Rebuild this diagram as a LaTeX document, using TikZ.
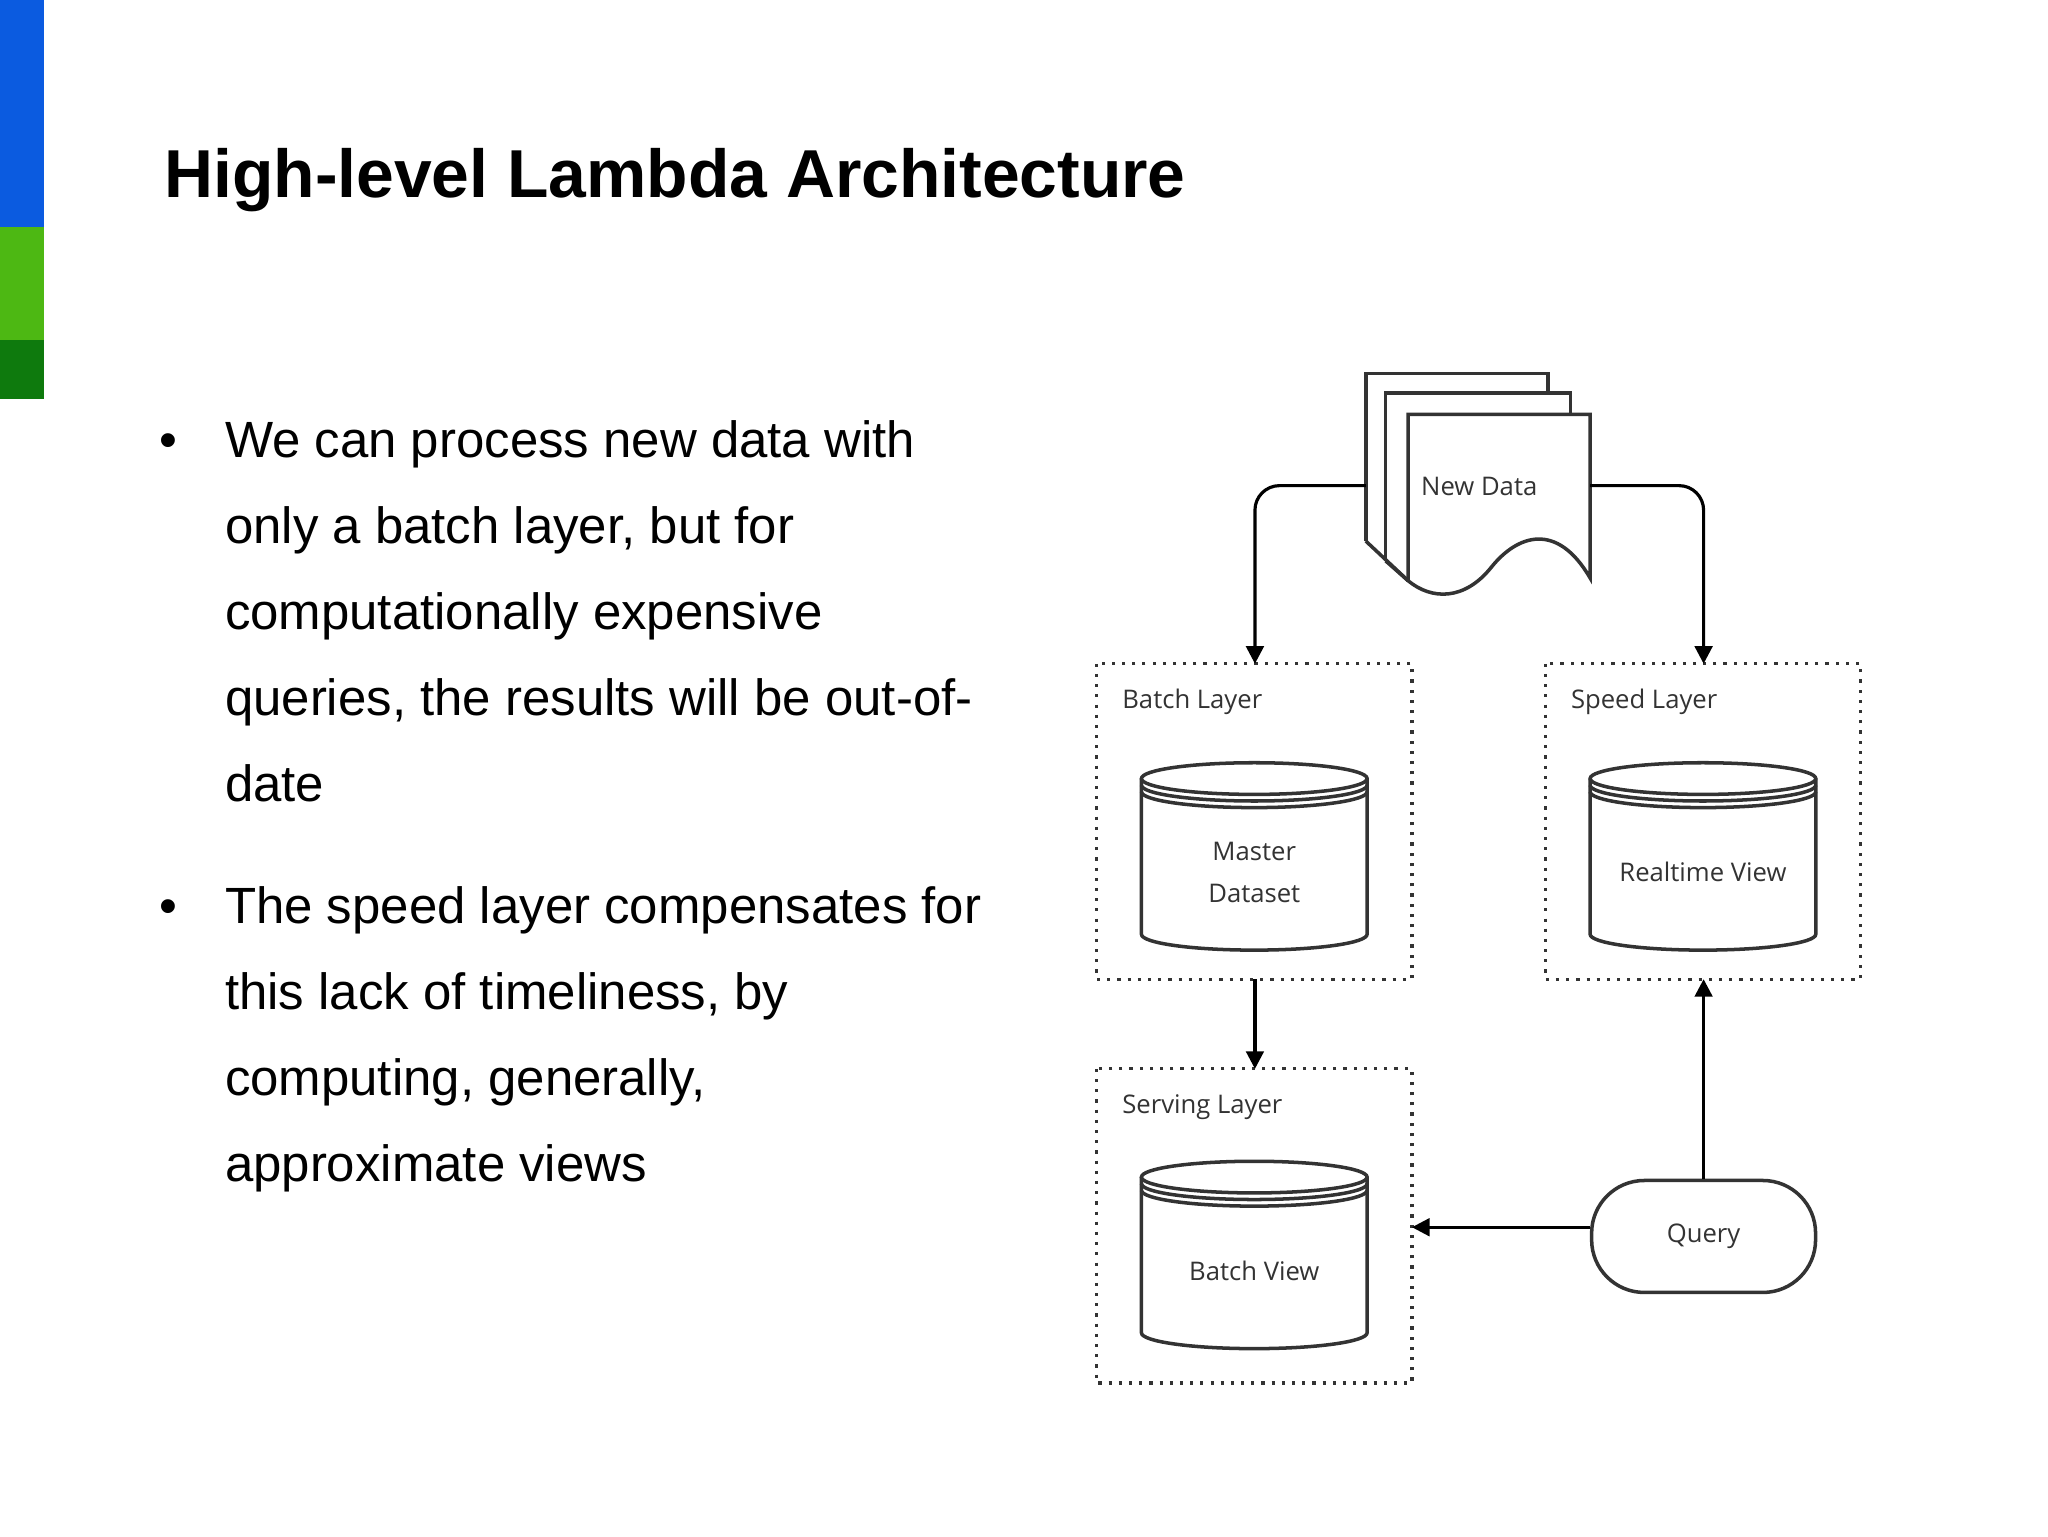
\documentclass[tikz,border=0pt]{standalone}
\usepackage{fontspec}
\setmainfont{Liberation Sans}
\newfontfamily\dfont{Open Sans}
\usetikzlibrary{arrows.meta}
\definecolor{cblue}{HTML}{0B5BE0}
\definecolor{cgreen}{HTML}{4DB813}
\definecolor{cdgreen}{HTML}{0E7A0D}
\definecolor{cgray}{HTML}{333333}
\tikzset{
 bul/.style={anchor=base west,inner sep=0pt,font=\fontsize{14.5}{17}\selectfont},
 lay/.style={draw=cgray,line width=0.9pt,dotted},
 laylab/.style={anchor=base west,inner sep=0pt,font=\dfont\fontsize{7.3}{9}\selectfont,text=cgray},
 dtext/.style={inner sep=0pt,align=center,font=\dfont\fontsize{7.3}{12}\selectfont,text=cgray},
 cylline/.style={draw=cgray,line width=1pt,fill=white},
 conn/.style={draw=black,line width=0.9pt,-{Triangle[length=5pt,width=5pt]},rounded corners=7pt}
}
\newcommand{\mycyl}[6]{%
 \draw[cylline] (#1,#2+12) -- (#1,#4-12) arc[start angle=180,end angle=0,x radius={(#3-#1)/2},y radius=12] -- (#3,#2+12);
 \draw[cylline] ({(#1+#3)/2},#2+12) ellipse[x radius={(#3-#1)/2},y radius=12];
 \draw[cylline,fill=none] (#1,#2+17) arc[start angle=180,end angle=0,x radius={(#3-#1)/2},y radius=12];
 \draw[cylline,fill=none] (#1,#2+22) arc[start angle=180,end angle=0,x radius={(#3-#1)/2},y radius=12];
 \node[dtext] (#5) at ({(#1+#3)/2},{(#2+#4)/2+12}) {#6};
}
\begin{document}
\begin{tikzpicture}[x=0.013196cm,y=-0.013196cm]
\useasboundingbox (0,0) rectangle (1552,1164);
\fill[white] (0,0) rectangle (1552,1164);
\fill[cblue] (0,0) rectangle (33,172);
\fill[cgreen] (0,172) rectangle (33,258);
\fill[cdgreen] (0,258) rectangle (33,302);
\node[anchor=base west,inner sep=0pt,font=\bfseries\fontsize{19.3}{22}\selectfont] (title) at (124,150) {High-level Lambda Architecture};
\node[bul] (b1) at (120,347) {•};
\node[bul] at (170,347) {We can process new data with};
\node[bul] at (170,412) {only a batch layer, but for};
\node[bul] at (170,477) {computationally expensive};
\node[bul] at (170,542) {queries, the results will be out-of-};
\node[bul] at (170,607) {date};
\node[bul] (b2) at (120,700) {•};
\node[bul] at (170,700) {The speed layer compensates for};
\node[bul] at (170,765) {this lack of timeliness, by};
\node[bul] at (170,830) {computing, generally,};
\node[bul] at (170,895) {approximate views};
% layers
\draw[lay] (831,503) rectangle (1070,742);
\draw[lay] (1171,503) rectangle (1410,742);
\draw[lay] (831,810) rectangle (1070,1048);
\coordinate (batchtop) at (951,503);
\coordinate (batchbot) at (951,742);
\coordinate (speedtop) at (1291,503);
\coordinate (speedbot) at (1291,742);
\coordinate (servtop) at (951,810);
\coordinate (servright) at (1070,930);
\node[laylab] (bl) at (850,537) {Batch Layer};
\node[laylab] (sl) at (1190,537) {Speed Layer};
\node[laylab] (svl) at (850,844) {Serving Layer};
\mycyl{865}{578}{1036}{720}{md}{Master\\Dataset}
\mycyl{1205}{578}{1376}{720}{rv}{Realtime View}
\mycyl{865}{880}{1036}{1022}{bv}{Batch View}
% query
\node[cylline,dtext,rounded corners=15pt,minimum width=2.24cm,minimum height=1.12cm] (q) at (1291,937) {Query};
% documents
\draw[cylline] (1035,410) -- (1035,283) -- (1173,283) -- (1173,300);
\draw[cylline] (1050,425) -- (1050,298) -- (1190,298) -- (1190,316);
\draw[cylline] (1035,410) -- (1067,440);
\draw[cylline] (1050,425) -- (1067,440);
\draw[cylline] (1067,314) -- (1205,314) -- (1205,438) .. controls (1180,395) and (1150,405) .. (1130,430) .. controls (1110,455) and (1085,455) .. (1067,440) -- cycle;
\node[dtext] (nd) at (1121,369) {New Data};
\coordinate (ndl) at (1035,368);
\coordinate (ndr) at (1205,368);
% connectors
\draw[conn] (ndl) -| (batchtop);
\draw[conn] (ndr) -| (speedtop);
\draw[conn] (batchbot) -- (servtop);
\draw[conn] (q.west |- servright) -- (servright);
\draw[conn] (q.north) -- (speedbot);
\end{tikzpicture}
\end{document}
